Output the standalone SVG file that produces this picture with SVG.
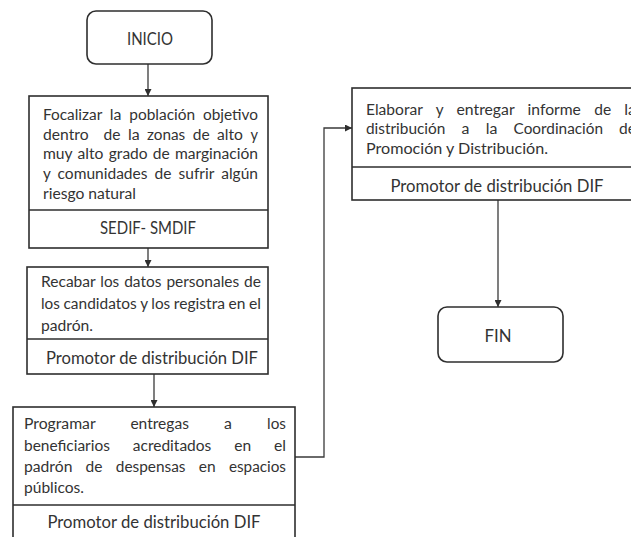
<svg xmlns="http://www.w3.org/2000/svg" width="631" height="537" viewBox="0 0 631 537">
<style>
.box{fill:#fff;stroke:#2e2e2e;stroke-width:1.6}
.div{stroke:#2e2e2e;stroke-width:1.6}
.t{font-family:Lato,"Liberation Sans",sans-serif;font-size:15.5px;fill:#333}
.r{font-family:Lato,"Liberation Sans",sans-serif;font-size:17px;fill:#333;text-anchor:middle}
.c{fill:none;stroke:#3a3a3a;stroke-width:1.3}
</style>
<defs>
<marker id="ah" viewBox="0 0 10 10" refX="10" refY="5" markerWidth="7" markerHeight="7" markerUnits="userSpaceOnUse" orient="auto">
<path d="M0,0 L10,5 L0,10 Z" fill="#2e2e2e"/>
</marker>
</defs>
<rect width="631" height="537" fill="#fff"/>
<g id="connectors">
<line class="c" x1="148" y1="64" x2="148" y2="96" marker-end="url(#ah)"/>
<line class="c" x1="148" y1="248" x2="148" y2="267" marker-end="url(#ah)"/>
<line class="c" x1="154" y1="374" x2="154" y2="407" marker-end="url(#ah)"/>
<polyline class="c" points="295,457 324,457 324,128 352,128" marker-end="url(#ah)"/>
<line class="c" x1="498" y1="200" x2="498" y2="307" marker-end="url(#ah)"/>
</g>
<g id="inicio">
<rect class="box" x="87" y="11" width="125" height="53" rx="9"/>
<text class="r" x="150" y="45" textLength="46" lengthAdjust="spacingAndGlyphs">INICIO</text>
</g>
<g id="focalizar">
<rect class="box" x="29" y="96" width="239" height="152"/>
<line class="div" x1="29" y1="210" x2="268" y2="210"/>
<text class="t" y="120"><tspan x="43" textLength="58.9" lengthAdjust="spacingAndGlyphs">Focalizar</tspan> <tspan x="109.8" textLength="11.7" lengthAdjust="spacingAndGlyphs">la</tspan> <tspan x="129.3" textLength="65.8" lengthAdjust="spacingAndGlyphs">población</tspan> <tspan x="203" textLength="55" lengthAdjust="spacingAndGlyphs">objetivo</tspan></text>
<text class="t" y="140"><tspan x="43" textLength="45.5" lengthAdjust="spacingAndGlyphs">dentro</tspan> <tspan x="103.5" textLength="16.9" lengthAdjust="spacingAndGlyphs">de</tspan> <tspan x="127.9" textLength="11.7" lengthAdjust="spacingAndGlyphs">la</tspan> <tspan x="147" textLength="38.2" lengthAdjust="spacingAndGlyphs">zonas</tspan> <tspan x="192.8" textLength="16.9" lengthAdjust="spacingAndGlyphs">de</tspan> <tspan x="217.1" textLength="25.9" lengthAdjust="spacingAndGlyphs">alto</tspan> <tspan x="250.5" textLength="7.5" lengthAdjust="spacingAndGlyphs">y</tspan></text>
<text class="t" y="159"><tspan x="43" textLength="29.3" lengthAdjust="spacingAndGlyphs">muy</tspan> <tspan x="77.6" textLength="25.9" lengthAdjust="spacingAndGlyphs">alto</tspan> <tspan x="108.8" textLength="38.8" lengthAdjust="spacingAndGlyphs">grado</tspan> <tspan x="152.8" textLength="16.9" lengthAdjust="spacingAndGlyphs">de</tspan> <tspan x="174.9" textLength="83.1" lengthAdjust="spacingAndGlyphs">marginación</tspan></text>
<text class="t" y="179"><tspan x="43" textLength="7.5" lengthAdjust="spacingAndGlyphs">y</tspan> <tspan x="57.6" textLength="89.9" lengthAdjust="spacingAndGlyphs">comunidades</tspan> <tspan x="154.6" textLength="16.9" lengthAdjust="spacingAndGlyphs">de</tspan> <tspan x="178.6" textLength="35.4" lengthAdjust="spacingAndGlyphs">sufrir</tspan> <tspan x="221.2" textLength="36.8" lengthAdjust="spacingAndGlyphs">algún</tspan></text>
<text class="t" x="43" y="199" textLength="93" lengthAdjust="spacingAndGlyphs">riesgo natural</text>
<text class="r" x="148" y="234" textLength="96" lengthAdjust="spacingAndGlyphs">SEDIF- SMDIF</text>
</g>
<g id="recabar">
<rect class="box" x="27" y="267" width="241" height="107"/>
<line class="div" x1="27" y1="339" x2="268" y2="339"/>
<text class="t" y="287"><tspan x="41" textLength="54.4" lengthAdjust="spacingAndGlyphs">Recabar</tspan> <tspan x="100.3" textLength="18.9" lengthAdjust="spacingAndGlyphs">los</tspan> <tspan x="124.2" textLength="37.2" lengthAdjust="spacingAndGlyphs">datos</tspan> <tspan x="166.4" textLength="72.8" lengthAdjust="spacingAndGlyphs">personales</tspan> <tspan x="244.1" textLength="16.9" lengthAdjust="spacingAndGlyphs">de</tspan></text>
<text class="t" y="309"><tspan x="41" textLength="18.9" lengthAdjust="spacingAndGlyphs">los</tspan> <tspan x="63.5" textLength="73.2" lengthAdjust="spacingAndGlyphs">candidatos</tspan> <tspan x="140.3" textLength="7.5" lengthAdjust="spacingAndGlyphs">y</tspan> <tspan x="151.3" textLength="18.9" lengthAdjust="spacingAndGlyphs">los</tspan> <tspan x="173.8" textLength="51.2" lengthAdjust="spacingAndGlyphs">registra</tspan> <tspan x="228.6" textLength="16.9" lengthAdjust="spacingAndGlyphs">en</tspan> <tspan x="249" textLength="12" lengthAdjust="spacingAndGlyphs">el</tspan></text>
<text class="t" x="41" y="331" textLength="52" lengthAdjust="spacingAndGlyphs">padrón.</text>
<text class="r" x="152" y="364" textLength="212" lengthAdjust="spacingAndGlyphs">Promotor de distribución DIF</text>
</g>
<g id="programar">
<rect class="box" x="13" y="407" width="282" height="140"/>
<line class="div" x1="13" y1="505" x2="295" y2="505"/>
<text class="t" y="429"><tspan x="24" textLength="71.3" lengthAdjust="spacingAndGlyphs">Programar</tspan> <tspan x="130.4" textLength="58.5" lengthAdjust="spacingAndGlyphs">entregas</tspan> <tspan x="224" textLength="7.9" lengthAdjust="spacingAndGlyphs">a</tspan> <tspan x="267.1" textLength="18.9" lengthAdjust="spacingAndGlyphs">los</tspan></text>
<text class="t" y="451"><tspan x="24" textLength="85.9" lengthAdjust="spacingAndGlyphs">beneficiarios</tspan> <tspan x="132.8" textLength="78.5" lengthAdjust="spacingAndGlyphs">acreditados</tspan> <tspan x="234.2" textLength="16.9" lengthAdjust="spacingAndGlyphs">en</tspan> <tspan x="274" textLength="12" lengthAdjust="spacingAndGlyphs">el</tspan></text>
<text class="t" y="472"><tspan x="24" textLength="48.4" lengthAdjust="spacingAndGlyphs">padrón</tspan> <tspan x="85.6" textLength="16.9" lengthAdjust="spacingAndGlyphs">de</tspan> <tspan x="115.8" textLength="69.7" lengthAdjust="spacingAndGlyphs">despensas</tspan> <tspan x="198.7" textLength="16.9" lengthAdjust="spacingAndGlyphs">en</tspan> <tspan x="228.9" textLength="57.1" lengthAdjust="spacingAndGlyphs">espacios</tspan></text>
<text class="t" x="24" y="493" textLength="60" lengthAdjust="spacingAndGlyphs">públicos.</text>
<text class="r" x="154" y="528" textLength="213" lengthAdjust="spacingAndGlyphs">Promotor de distribución DIF</text>
</g>
<g id="elaborar">
<rect class="box" x="352" y="88" width="293" height="112"/>
<line class="div" x1="352" y1="167" x2="645" y2="167"/>
<text class="t" y="115"><tspan x="366" textLength="56.5" lengthAdjust="spacingAndGlyphs">Elaborar</tspan> <tspan x="435.8" textLength="7.5" lengthAdjust="spacingAndGlyphs">y</tspan> <tspan x="456.5" textLength="57.8" lengthAdjust="spacingAndGlyphs">entregar</tspan> <tspan x="527.6" textLength="53.3" lengthAdjust="spacingAndGlyphs">informe</tspan> <tspan x="594.2" textLength="16.9" lengthAdjust="spacingAndGlyphs">de</tspan> <tspan x="624.3" textLength="11.7" lengthAdjust="spacingAndGlyphs">la</tspan></text>
<text class="t" y="134"><tspan x="366" textLength="79.4" lengthAdjust="spacingAndGlyphs">distribución</tspan> <tspan x="461.6" textLength="7.9" lengthAdjust="spacingAndGlyphs">a</tspan> <tspan x="485.7" textLength="11.7" lengthAdjust="spacingAndGlyphs">la</tspan> <tspan x="513.6" textLength="89.4" lengthAdjust="spacingAndGlyphs">Coordinación</tspan> <tspan x="619.1" textLength="16.9" lengthAdjust="spacingAndGlyphs">de</tspan></text>
<text class="t" x="366" y="154" textLength="182" lengthAdjust="spacingAndGlyphs">Promoción y Distribución.</text>
<text class="r" x="497" y="192" textLength="213" lengthAdjust="spacingAndGlyphs">Promotor de distribución DIF</text>
</g>
<g id="fin">
<rect class="box" x="438" y="307" width="125" height="55" rx="9"/>
<text class="r" x="498" y="342" textLength="27" lengthAdjust="spacingAndGlyphs">FIN</text>
</g>
</svg>
